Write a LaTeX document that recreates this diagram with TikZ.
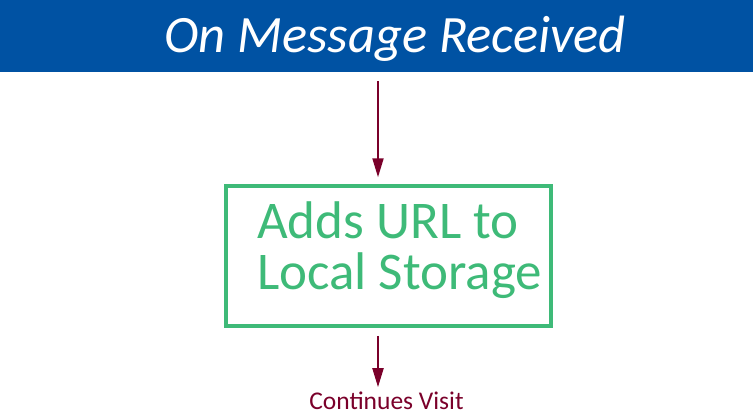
\documentclass[tikz,border=0pt]{standalone}
\usepackage{fontspec}
\setmainfont{Carlito}
\usetikzlibrary{arrows.meta}

\definecolor{bannerblue}{RGB}{0,82,163}
\definecolor{storegreen}{RGB}{62,186,120}
\definecolor{flowred}{RGB}{122,0,42}

\tikzset{
  banner/.style={rectangle, fill=bannerblue, minimum width=753pt, minimum height=72pt, inner sep=0pt},
  store/.style={rectangle, draw=storegreen, line width=3.5pt, minimum width=325pt, minimum height=140pt, inner sep=0pt},
  flow/.style={draw=flowred, line width=2pt, -{Triangle[length=19pt,width=11pt]}}
}

\begin{document}
\begin{tikzpicture}[x=1pt,y=-1pt]

        \useasboundingbox (0,0) rectangle (753,413);

        \begin{scope}[every node/.style={inner sep=0pt}]
          \node[banner] (banner) at (376.5,36) {};
          \node[anchor=base, text=white, font=\itshape\fontsize{52.5}{60}\selectfont] (title) at (395,52) {On Message Received};
          \node[store] (store) at (388.5,256) {};
          \node[anchor=base west, align=left, text=storegreen, font=\fontsize{53}{51}\selectfont] (storetext) at (257,289) {Adds URL to\\Local Storage};
          \node[anchor=base, text=flowred, font=\fontsize{25.5}{28}\selectfont] (visit) at (386.5,409) {Continues Visit};
        \end{scope}

        \coordinate (axis) at (378,0);

        \path[flow, shorten <=9pt, shorten >=7pt] (banner.south -| axis) -- (store.north -| axis);
        \path[flow, shorten <=8pt, shorten >=4pt] (store.south -| axis) -- (visit.north -| axis);

      \end{tikzpicture}
\end{document}
